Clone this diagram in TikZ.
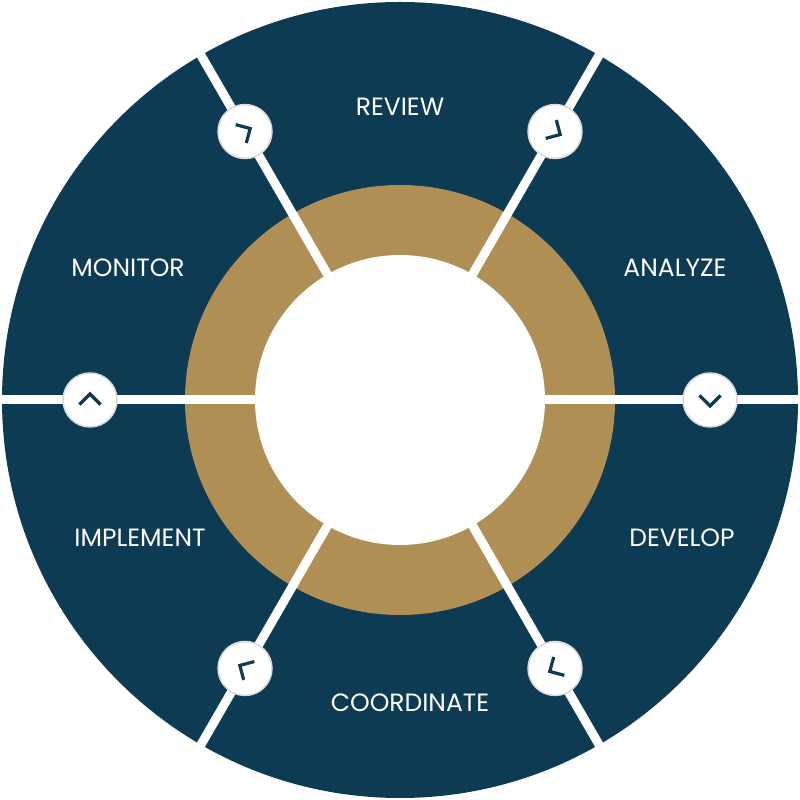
\documentclass[tikz,border=0pt]{standalone}
\usepackage{fontspec}
\setmainfont{Poppins}
\usetikzlibrary{calc}
\definecolor{navy}{HTML}{0D3B54}
\definecolor{gold}{HTML}{B08F55}
\begin{document}
\begin{tikzpicture}[x=1pt,y=1pt,
  lbl/.style={text=white,font=\fontsize{25}{30}\selectfont},
  sep/.style={draw=white,line width=9pt},
  knob/.style={circle,fill=white,minimum size=54pt,inner sep=0pt,draw=black!15,line width=1.5pt},
  chev/.style={draw=navy,line width=3.2pt}]
\useasboundingbox (0,0) rectangle (800,800);
\coordinate (c) at (400,400);
\fill[navy] (c) circle (398);
\fill[gold] (c) circle (215);
\fill[white] (c) circle (145);
\foreach \a in {0,60,120,180,240,300}{
  \draw[sep] (c) ++(\a:140) -- ++(\a:270);
}
\foreach \a in {0,60,120,180,240,300}{
  \node[knob] (k\a) at ($(c)+(\a:310)$) {};
  \draw[chev] ($(k\a)+(\a-90:6)+(\a-90+135:15)$) -- ($(k\a)+(\a-90:6)$) -- ($(k\a)+(\a-90:6)+(\a-90-135:15)$);
}
\node[lbl] (review) at (400,693) {REVIEW};
\node[lbl] (analyze) at (675,532) {ANALYZE};
\node[lbl] (monitor) at (128,532) {MONITOR};
\node[lbl] (develop) at (682,262) {DEVELOP};
\node[lbl] (implement) at (140,262) {IMPLEMENT};
\node[lbl] (coord) at (410,97) {COORDINATE};
\end{tikzpicture}
\end{document}
